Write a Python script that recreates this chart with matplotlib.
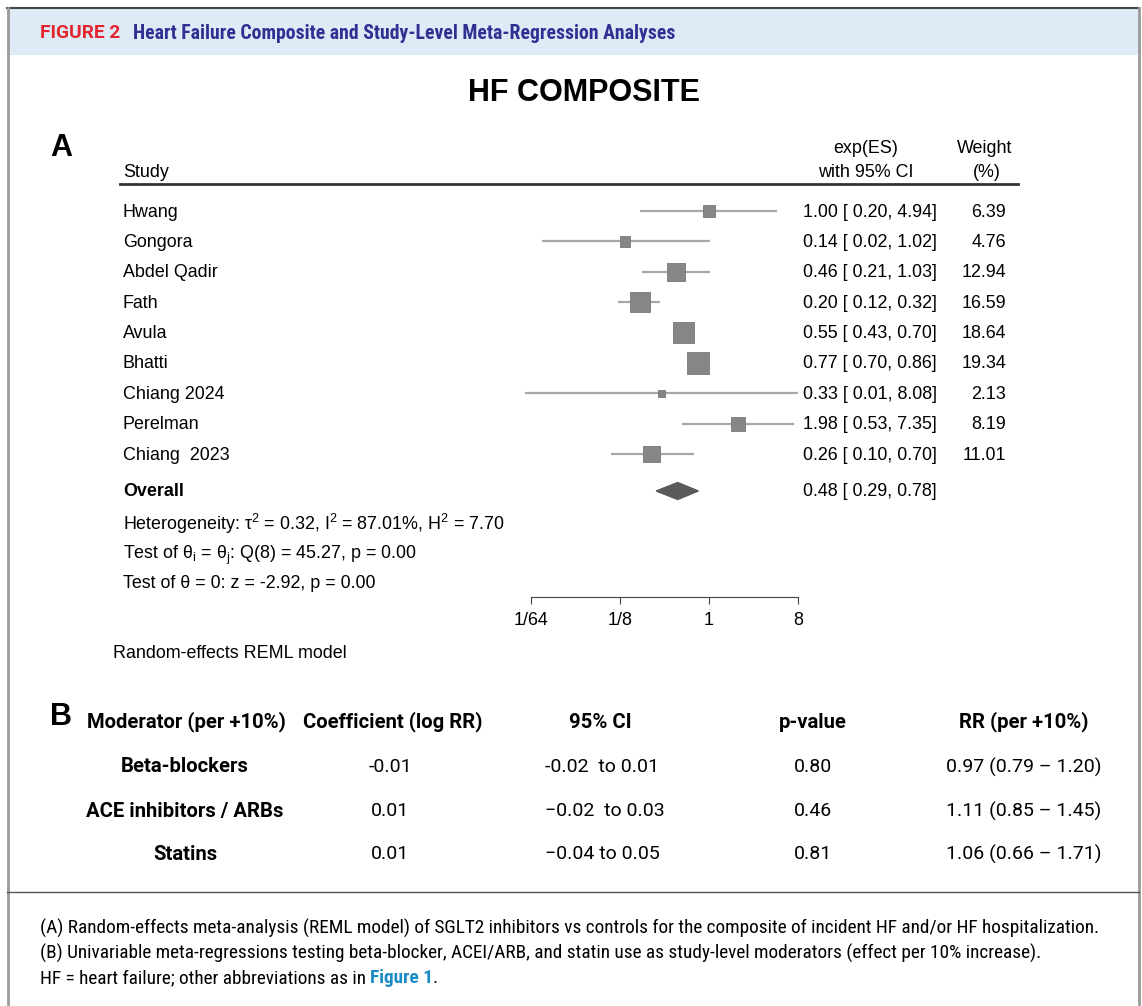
import numpy as np
import matplotlib
matplotlib.use('Agg')
import matplotlib.pyplot as plt
from matplotlib.patches import Rectangle, Polygon

plt.rcParams['mathtext.fontset'] = 'custom'
plt.rcParams['mathtext.rm'] = 'Liberation Sans'

# ---- panel A data (forest plot) ----
studies = ['Hwang', 'Gongora', 'Abdel Qadir', 'Fath', 'Avula', 'Bhatti',
           'Chiang 2024', 'Perelman', 'Chiang  2023']
es = np.array([1.00, 0.14, 0.46, 0.20, 0.55, 0.77, 0.33, 1.98, 0.26])
ci_lo = np.array([0.20, 0.02, 0.21, 0.12, 0.43, 0.70, 0.0135, 0.53, 0.10])
ci_hi = np.array([4.94, 1.02, 1.03, 0.32, 0.70, 0.86, 8.08, 7.35, 0.70])
weights = np.array([6.39, 4.76, 12.94, 16.59, 18.64, 19.34, 2.13, 8.19, 11.01])
overall = (0.48, 0.29, 0.78)
ticks = [1 / 64, 1 / 8, 1, 8]
tick_labels = ['1/64', '1/8', '1', '8']

# ---- panel B data (meta-regression table) ----
moderators = ['Beta-blockers', 'ACE inhibitors / ARBs', 'Statins']
coefs = ['-0.01', '0.01', '0.01']
ci_txt = ['-0.02  to 0.01', '\u22120.02  to 0.03', '\u22120.04 to 0.05']
pvals = ['0.80', '0.46', '0.81']
rr_txt = ['0.97 (0.79 \u2013 1.20)', '1.11 (0.85 \u2013 1.45)', '1.06 (0.66 \u2013 1.71)']
b_headers = ['Moderator (per +10%)', 'Coefficient (log RR)', '95% CI', 'p-value', 'RR (per +10%)']

W, H = 1142, 1006
fig = plt.figure(figsize=(W / 100, H / 100), dpi=100)
ax = fig.add_axes([0, 0, 1, 1])
ax.set_xlim(0, W)
ax.set_ylim(H, 0)
ax.axis('off')

SANS = ['Liberation Sans', 'DejaVu Sans']
TAB = ['Roboto', 'DejaVu Sans']
CAP = ['Liberation Sans Narrow', 'Roboto Condensed', 'Roboto', 'DejaVu Sans']
VA = 'center_baseline'

# frame + header band
ax.add_patch(Rectangle((7, 8), 1132, 47, facecolor='#deebf7', edgecolor='none'))
ax.plot([7, 1139], [8, 8], color='#444444', lw=1.5)
ax.plot([7.5, 7.5], [8, 1004], color='#9a9a9a', lw=2)
ax.plot([1139, 1139], [8, 1004], color='#9a9a9a', lw=2)
ax.plot([7, 1139], [892, 892], color='#555555', lw=1)

ax.text(40, 33, 'FIGURE 2', color='#e3262e', fontsize=13.8, fontweight='bold',
        family=TAB, va='center', ha='left')
ax.text(133, 33, 'Heart Failure Composite and Study-Level Meta-Regression Analyses',
        color='#2e3192', fontsize=14.2, fontweight='bold', family=CAP, va='center', ha='left')

ax.text(584, 93, 'HF COMPOSITE', fontsize=22, fontweight='bold', family=SANS,
        ha='center', va='center')
ax.text(50, 148, 'A', fontsize=22, fontweight='bold', family=SANS, ha='left', va='center')

fs = 12.9
ax.text(123, 170, 'Study', fontsize=fs, family=SANS, va=VA)
ax.text(866, 146, 'exp(ES)', fontsize=fs, family=SANS, va=VA, ha='center')
ax.text(866, 170, 'with 95% CI', fontsize=fs, family=SANS, va=VA, ha='center')
ax.text(985, 146, 'Weight', fontsize=fs, family=SANS, va=VA, ha='center')
ax.text(987, 170, '(%)', fontsize=fs, family=SANS, va=VA, ha='center')
ax.plot([120, 1018], [184, 184], color='#333333', lw=2)

row_y = 211 + np.arange(len(studies)) * 30.4
overall_y = 491

for i, name in enumerate(studies):
    y = row_y[i] - 1
    ax.text(123, y, name, fontsize=fs, family=SANS, va=VA)
    ax.text(803, y, f'{es[i]:.2f} [ {ci_lo[i]:.2f}, {ci_hi[i]:.2f}]', fontsize=fs,
            family=SANS, va=VA)
    ax.text(1006, y, f'{weights[i]:.2f}', fontsize=fs, family=SANS, va=VA, ha='right')

ax.text(123, overall_y - 1, 'Overall', fontsize=fs, fontweight='bold', family=SANS, va=VA)
ax.text(803, overall_y - 1, f'{overall[0]:.2f} [ {overall[1]:.2f}, {overall[2]:.2f}]',
        fontsize=fs, family=SANS, va=VA)
ax.text(123, 521, r'Heterogeneity: τ$\mathregular{^2}$ = 0.32, I$\mathregular{^2}$ = 87.01%, '
        r'H$\mathregular{^2}$ = 7.70', fontsize=fs, family=SANS, va=VA)
ax.text(123, 551, r'Test of θ$\mathregular{_i}$ = θ$\mathregular{_j}$: Q(8) = 45.27, p = 0.00',
        fontsize=fs, family=SANS, va=VA)
ax.text(123, 582, 'Test of θ = 0: z = -2.92, p = 0.00', fontsize=fs, family=SANS, va=VA)
ax.text(113, 651, 'Random-effects REML model', fontsize=fs, family=SANS, va=VA)

# forest axes: log2 x scale, y in figure pixels
x_left, x_right = 500, 800
px_per_log2 = 29.6
x1 = 709
fax = fig.add_axes([x_left / W, 1 - 610 / H, (x_right - x_left) / W, (610 - 190) / H])
fax.set_xscale('log', base=2)
fax.set_xlim(2 ** ((x_left - x1) / px_per_log2), 2 ** ((x_right - x1) / px_per_log2))
fax.set_ylim(610, 190)
fax.patch.set_alpha(0)
for s in ['top', 'left', 'right']:
    fax.spines[s].set_visible(False)
fax.spines['bottom'].set_position(('data', 597))
fax.spines['bottom'].set_bounds(ticks[0], ticks[-1])
fax.spines['bottom'].set_color('#444444')
fax.set_yticks([])
fax.set_xticks(ticks)
fax.set_xticklabels(tick_labels, fontsize=fs, family=SANS)
fax.xaxis.set_minor_locator(matplotlib.ticker.NullLocator())
fax.tick_params(axis='x', direction='out', length=5, color='#444444', pad=6)

for i in range(len(studies)):
    fax.plot([ci_lo[i], ci_hi[i]], [row_y[i], row_y[i]], color='#a8a8a8', lw=1.6,
             solid_capstyle='butt', zorder=2)
fax.scatter(es, row_y, s=weights * 12.5, marker='s', color='#868686',
            edgecolors='#777777', linewidths=0.6, zorder=3)

est, lo, hi = overall
fax.add_patch(Polygon([[lo, overall_y], [est, overall_y - 8.5], [hi, overall_y],
                       [est, overall_y + 8.5]], closed=True, facecolor='#5a5a5a',
                      edgecolor='#5a5a5a', zorder=3))

# ---- panel B ----
ax.text(50, 717, 'B', fontsize=22, fontweight='bold', family=SANS, ha='left', va='center')
col_x = [185, 393, 600, 813, 1024]
hfs = 14.6
tfs = 14
hy = 722
ax.text(87, hy, b_headers[0], fontsize=hfs, fontweight='bold', family=TAB, va='center', ha='left')
for j in range(1, 5):
    ax.text(col_x[j], hy, b_headers[j], fontsize=hfs, fontweight='bold', family=TAB,
            va='center', ha='center')

b_rows = [767, 811, 854]
for i, m in enumerate(moderators):
    y = b_rows[i]
    ax.text(col_x[0], y, m, fontsize=hfs, fontweight='bold', family=TAB, va='center', ha='center')
    ax.text(col_x[1] - 3, y, coefs[i], fontsize=tfs, family=TAB, va='center', ha='center')
    ax.text(545, y, ci_txt[i], fontsize=tfs, family=TAB, va='center', ha='left')
    ax.text(col_x[3], y, pvals[i], fontsize=tfs, family=TAB, va='center', ha='center')
    ax.text(col_x[4], y, rr_txt[i], fontsize=tfs, family=TAB, va='center', ha='center')

# ---- caption ----
cfs = 13.9
ax.text(40, 928, '(A) Random-effects meta-analysis (REML model) of SGLT2 inhibitors vs controls '
        'for the composite of incident HF and/or HF hospitalization.', fontsize=cfs,
        family=CAP, va='center')
ax.text(40, 953, '(B) Univariable meta-regressions testing beta-blocker, ACEI/ARB, and statin use '
        'as study-level moderators (effect per 10% increase).', fontsize=cfs, family=CAP,
        va='center')
t = ax.text(40, 978, 'HF = heart failure; other abbreviations as in ', fontsize=cfs,
            family=CAP, va='center')
fig.canvas.draw()
bb = t.get_window_extent()
ax.text(bb.x1, 978, 'Figure 1', fontsize=cfs, family=CAP, va='center',
        color='#1b8bc6', fontweight='bold')
bb2 = ax.texts[-1].get_window_extent()
ax.text(bb2.x1 - 1, 978, '.', fontsize=cfs, family=CAP, va='center')

fig.savefig('out.png', dpi=100)
